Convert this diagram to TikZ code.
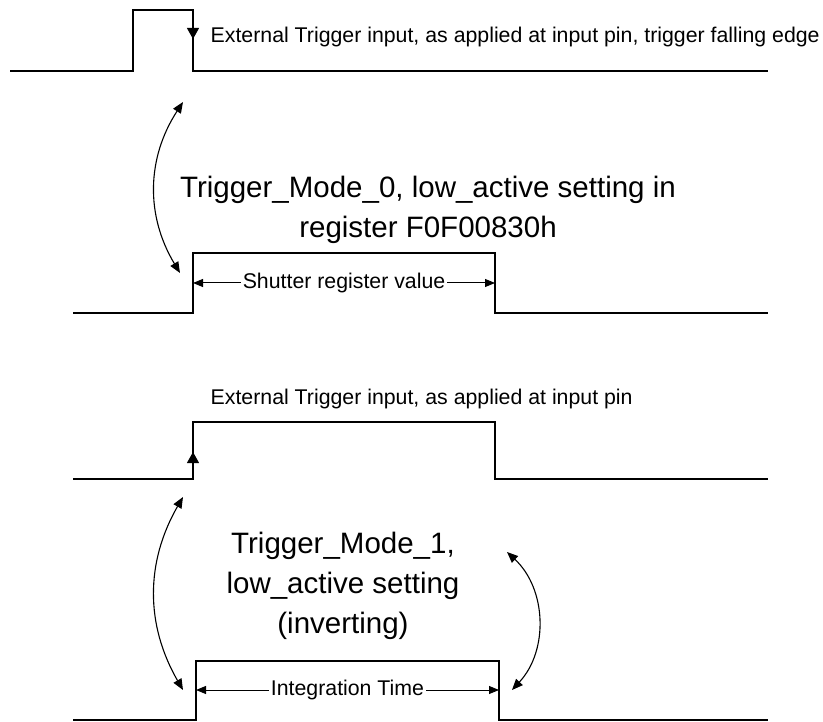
\documentclass[tikz,border=0pt]{standalone}
\usepackage{fontspec}
\setmainfont{Liberation Sans}
\usetikzlibrary{arrows.meta}

\begin{document}
\begin{tikzpicture}[x=1pt,y=-1pt,>={Triangle[length=11pt,width=9pt]},
                    signal/.style={line width=2.5pt,line join=miter},
                    span/.style={<->,line width=1pt,>={Triangle[length=10pt,width=8pt]}},
                    bow/.style={<->,line width=1.1pt},
                    edgetip/.style={->,line width=1pt,>={Triangle[length=11pt,width=12pt]}},
                    note/.style={font=\fontsize{21.3}{25}\selectfont,inner sep=1.5pt},
                    big/.style={font=\fontsize{29.5}{40}\selectfont,align=center}]

  \useasboundingbox (0,0) rectangle (823,722);

  % trigger input, falling edge
  \draw[signal] (10,71) -- (133,71) -- (133,10) -- (193,10) -- (193,71) -- (768,71);
  \coordinate (fallA) at (193,22);
  \coordinate (fallB) at (193,39);
  \draw[edgetip] (fallA) -- (fallB);
  \node[note,anchor=base west] (trigA) at (209,43)
    {External Trigger input, as applied at input pin, trigger falling edge};

  % shutter window
  \draw[signal] (73,313) -- (193,313) -- (193,253) -- (495,253) -- (495,313) -- (768,313);
  \coordinate (shutL) at (193,283);
  \coordinate (shutR) at (495,283);
  \draw[span] (shutL) -- node[note,fill=white] (shut) {Shutter register value} (shutR);

  \node[big,anchor=base] (modeA) at (428,238)
    {Trigger\_Mode\_0, low\_active setting in\\register F0F00830h};
  \coordinate (bowAt) at (183,102);
  \coordinate (bowAb) at (180,273);
  \draw[bow] (bowAt) to[bend right=32] (bowAb);

  % trigger input, rising edge
  \draw[signal] (73,479) -- (193,479) -- (193,422) -- (495,422) -- (495,479) -- (768,479);
  \coordinate (riseA) at (193,467);
  \coordinate (riseB) at (193,452);
  \draw[edgetip] (riseA) -- (riseB);
  \node[note,anchor=base west] (trigB) at (209,404)
    {External Trigger input, as applied at input pin};

  % integration window
  \draw[signal] (73,720) -- (196,720) -- (196,661) -- (499,661) -- (499,720) -- (768,720);
  \coordinate (intL) at (196,690);
  \coordinate (intR) at (499,690);
  \draw[span] (intL) -- node[note,fill=white] (integ) {Integration Time} (intR);

  \node[big,anchor=base] (modeB) at (343,633)
    {Trigger\_Mode\_1,\\low\_active setting\\(inverting)};
  \coordinate (bowBt) at (183,497);
  \coordinate (bowBb) at (183,690);
  \draw[bow] (bowBt) to[bend right=30] (bowBb);
  \coordinate (bowCt) at (507,552);
  \coordinate (bowCb) at (512,690);
  \draw[bow] (bowCt) to[bend left=45] (bowCb);
\end{tikzpicture}
\end{document}
